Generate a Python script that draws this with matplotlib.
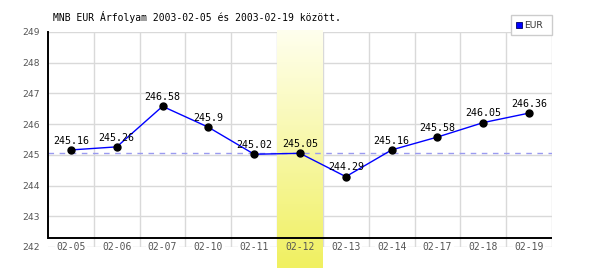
import matplotlib
matplotlib.use("Agg")
import matplotlib.pyplot as plt
import numpy as np
from matplotlib.patches import Rectangle

categories = ["02-05", "02-06", "02-07", "02-10", "02-11", "02-12",
              "02-13", "02-14", "02-17", "02-18", "02-19"]
values = [245.16, 245.26, 246.58, 245.9, 245.02, 245.05,
          244.29, 245.16, 245.58, 246.05, 246.36]
value_labels = ["245.16", "245.26", "246.58", "245.9", "245.02", "245.05",
                "244.29", "245.16", "245.58", "246.05", "246.36"]
y_ticks = [242, 243, 244, 245, 246, 247, 248, 249]
highlight_index = 5
reference_value = 245.05
title = "MNB EUR Árfolyam 2003-02-05 és 2003-02-19 között."
series_name = "EUR"

mono = "DejaVu Sans Mono"

fig = plt.figure(figsize=(6, 2.7), dpi=100)
ax = fig.add_axes([0.08, 0.0852, 0.84, 0.7963])
n = len(categories)
x = np.arange(n)
ax.set_xlim(-0.5, n - 0.5)
ax.set_ylim(242, 249)

for s in ax.spines.values():
    s.set_visible(False)

# grid
grid_c = "#d9d9d9"
for yv in y_ticks:
    ax.axhline(yv, color=grid_c, lw=1, zorder=0)
for i in range(n):
    ax.axvline(i + 0.5, color=grid_c, lw=1, zorder=0)

# highlight band with gradient
grad = np.linspace(0, 1, 256).reshape(-1, 1)
top = np.array([255, 255, 238]) / 255
bot = np.array([240, 240, 96]) / 255
img = top + (bot - top) * grad[..., None]
img = img.reshape(256, 1, 3)
# extend band below axes
ybot = 242 - 21 / 215 * 7
ytop = 249 + 1 / 215 * 7
ax.imshow(img, extent=[highlight_index - 0.5, highlight_index + 0.5, ybot, ytop],
          aspect="auto", origin="upper", zorder=1, clip_on=False, interpolation="bilinear")
ax.set_xlim(-0.5, n - 0.5)
ax.set_ylim(242, 249)

# reference dashed line
ax.axhline(reference_value, color="#9a9af0", lw=1, ls=(0, (4, 4)), zorder=2)

# axes lines
xaxis_y = 242 + 9 / 215 * 7
ax.axhline(xaxis_y, color="black", lw=1.4, zorder=3)
ax.plot([-0.5, -0.5], [xaxis_y, 249], color="black", lw=1.4, zorder=3, clip_on=False)

# data
ax.plot(x, values, color="#0000ff", lw=1, zorder=4)
ax.plot(x, values, "o", color="black", ms=5, zorder=5)
for xi, v, lab in zip(x, values, value_labels):
    ax.text(xi, v + 0.3, lab, ha="center", va="center", fontsize=7.2,
            family=mono, color="black", zorder=6)

# ticks
ax.set_xticks([])
ax.set_yticks(y_ticks)
ax.set_yticklabels([str(t) for t in y_ticks], family="DejaVu Sans", fontsize=6.6, color="#555555")
ax.tick_params(axis="y", length=0, pad=6)
for i, c in enumerate(categories):
    kw = {}
    if i != highlight_index:
        kw["bbox"] = dict(boxstyle="square,pad=0.15", fc="white", ec="none")
    ax.text(i, 242, c, ha="center", va="center", fontsize=7, family=mono,
            color="#555555", zorder=6, clip_on=False, **kw)

fig.text(53 / 600, 1 - 17 / 270, title, ha="left", va="center", family=mono,
         fontsize=7, color="black")

# legend
lx0, ly0, lw_, lh = 511 / 600, 1 - 35 / 270, 41 / 600, 20 / 270
fig.patches.append(Rectangle((lx0, ly0), lw_, lh, transform=fig.transFigure,
                             fc="white", ec="#cccccc", lw=1))
fig.patches.append(Rectangle((516 / 600, 1 - 28 / 270), 6 / 600, 6 / 270,
                             transform=fig.transFigure, fc="#0000ff", ec="#000066", lw=0.6))
fig.text(524 / 600, 1 - 25 / 270, series_name, ha="left", va="center",
         family="DejaVu Sans", fontsize=6.6, color="#333333")

fig.savefig("out.png", dpi=100)
